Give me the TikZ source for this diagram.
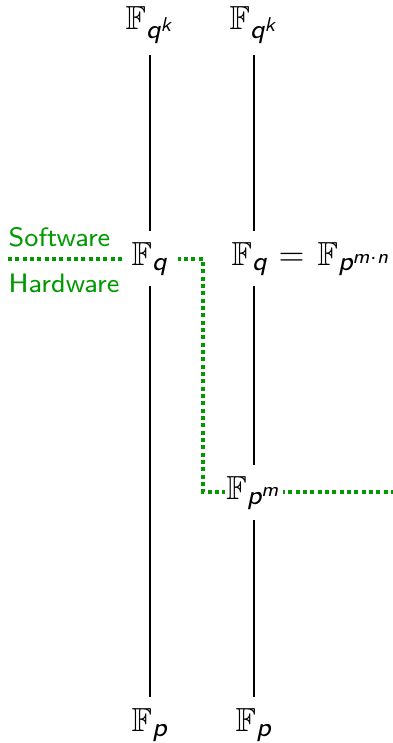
\documentclass[tikz,border=0pt]{standalone}
\usepackage{amsmath}
\usepackage{amssymb}
\DeclareMathSizes{10}{10}{8}{6}
\definecolor{hwgreen}{RGB}{0,153,0}
\newcommand{\myv}[1]{\text{\sffamily\itshape #1}}
\tikzset{
  fld/.style={anchor=base, fill=white, inner ysep=3pt, inner xsep=1.5pt},
  tower/.style={line width=0.6pt},
  divide/.style={hwgreen, line width=1.2pt, dash pattern=on 1.2pt off 1pt},
  lbl/.style={anchor=base west, inner sep=0pt, text=hwgreen, font=\footnotesize\sffamily}
}
\begin{document}
\begin{tikzpicture}[x=0.3pt,y=-0.3pt]
\useasboundingbox (0,0) rectangle (393,743);
% divider line
\coordinate (sw) at (8,259);
\coordinate (c1) at (203,259);
\coordinate (c2) at (203,492);
\coordinate (ee) at (393,492);
\draw[divide] (sw) -- (c1) -- (c2) -- (ee);
\node[lbl] (soft) at (8,246) {Software};
\node[lbl] (hard) at (8,292) {Hardware};
% left tower
\node[fld] (a1) at (150,29) {$\mathbb{F}_{\myv{q}^{\myv{k}}}$};
\node[fld, inner xsep=3pt] (a2) at (150,265) {$\mathbb{F}_{\myv{q}}$};
\node[fld] (a3) at (150,731) {$\mathbb{F}_{\myv{p}}$};
% right tower
\node[fld] (b1) at (254,29) {$\mathbb{F}_{\myv{q}^{\myv{k}}}$};
\node[fld] (b2) at (250,265) {$\mathbb{F}_{\myv{q}}$};
\node[fld, anchor=base west, inner sep=0pt] (b2r) at ([xshift=-1pt]b2.base east) {$\mkern4mu=\mkern2mu\mathbb{F}_{\myv{p}^{\myv{m}\cdot\myv{n}}}$};
\node[fld, inner xsep=0.5pt] (b3) at (254,499) {$\mathbb{F}_{\myv{p}^{\myv{m}}}$};
\node[fld] (b4) at (254,731) {$\mathbb{F}_{\myv{p}}$};
\draw[tower] (a1) -- (a2) -- (a3);
\draw[tower] (b1.south -| b3) -- (b2.north -| b3);
\draw[tower] (b2.south -| b3) -- (b3) -- (b4);
\end{tikzpicture}
\end{document}
